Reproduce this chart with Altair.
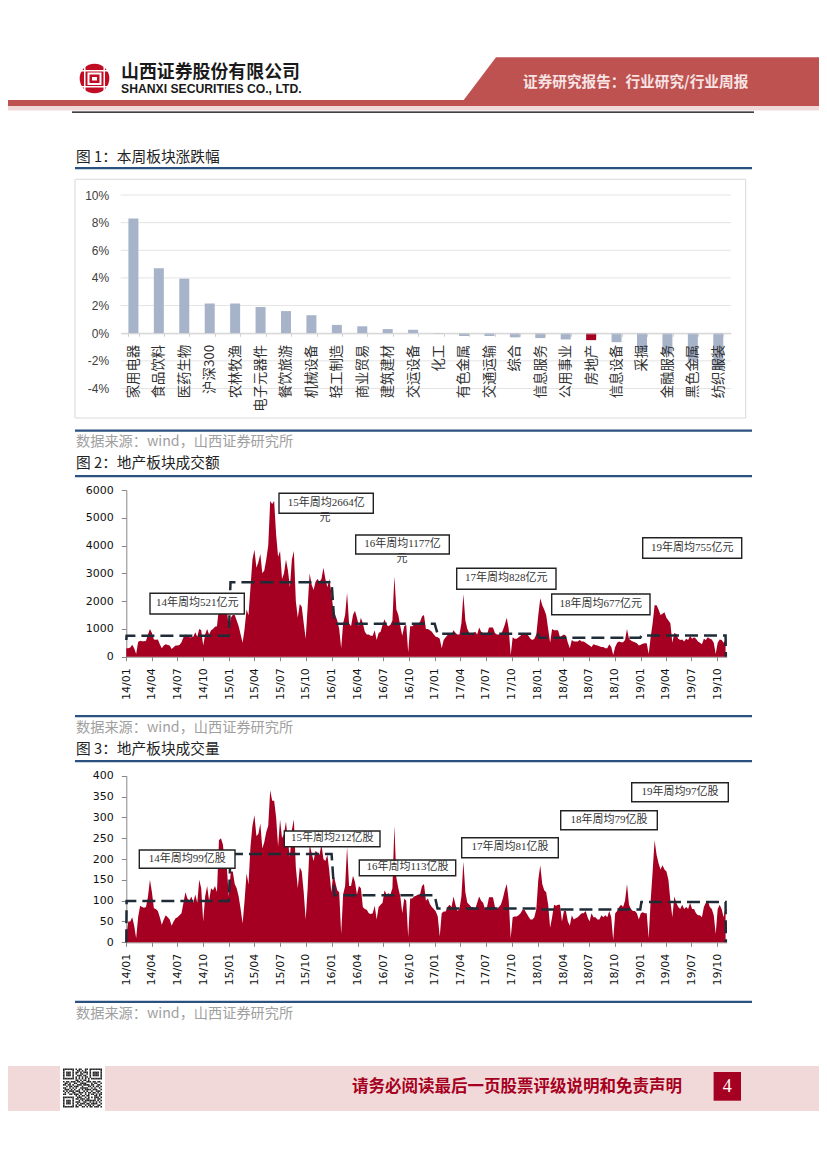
import altair as alt
import pandas as pd

# ---------- data ----------
sectors = ["家用电器","食品饮料","医药生物","沪深300","农林牧渔","电子元器件","餐饮旅游","机械设备","轻工制造","商业贸易","建筑建材","交运设备",
           "化工","有色金属","交通运输","综合","信息服务","公用事业","房地产","信息设备","采掘","金融服务","黑色金属","纺织服装"]
sector_chg = [8.3,4.7,3.95,2.15,2.15,1.9,1.6,1.3,0.6,0.5,0.3,0.25,-0.05,-0.2,-0.2,-0.3,-0.35,-0.45,-0.5,-0.65,-1.3,-1.5,-2.0,-2.6]

amount = [
 300,300,330,430,300,100,530,570,560,560,570,800,1000,
 850,620,610,620,450,300,400,450,420,400,280,340,400,
 400,420,520,700,800,780,700,700,720,880,720,1000,950,
 400,800,1000,800,950,1000,1080,1100,1750,1750,1700,1750,1750,
 1000,1400,1500,1500,1300,1100,800,500,1000,1700,1500,2500,3500,
 3850,3200,3400,3700,3000,3100,3500,4000,5600,5500,5600,4400,3600,
 3800,2800,3000,3500,3100,2500,3500,3800,2000,1400,1900,1800,1200,
 650,1800,3000,2600,2400,2700,2800,2700,2800,3200,2800,2500,2800,
 2300,1700,1500,1300,1000,300,1200,1500,2300,1200,1100,1500,1650,
 1400,1100,1400,1200,900,800,800,750,750,950,600,850,900,
 1150,1350,1150,1100,1150,1300,2900,1700,1500,1100,750,1100,1150,
 150,1100,1100,1150,1200,1200,1250,1450,1500,1000,1000,950,900,
 800,720,700,650,300,600,700,780,800,800,950,850,800,
 800,1200,2250,1300,1000,850,850,850,900,800,1050,900,850,
 800,800,1050,1050,1050,850,800,800,800,950,1150,1400,1000,
 50,700,650,650,700,750,850,850,850,750,650,600,650,
 800,1500,2100,1850,1700,1500,1000,500,1000,950,950,950,700,
 750,800,750,500,300,600,550,550,550,600,550,550,500,
 450,400,350,450,420,400,380,350,350,300,300,450,350,
 60,350,500,550,520,520,600,1000,650,580,550,520,480,
 400,430,470,480,480,100,700,1200,1850,1850,1700,1500,1550,
 1600,1400,1300,1200,500,850,820,650,600,620,550,650,600,
 750,650,700,650,550,500,450,650,600,700,650,620,500,
 100,500,620,600,500,600]
volume = [
 15,50,50,60,40,10,60,88,85,83,85,110,150,
 120,82,80,75,60,42,55,65,60,55,40,50,58,
 60,65,70,95,120,105,100,110,95,115,95,150,130,
 50,110,135,100,130,125,135,120,245,250,235,190,180,
 110,170,170,140,130,110,80,45,100,165,140,230,280,
 305,255,260,285,225,240,265,280,365,340,340,300,230,
 295,250,260,290,240,205,270,295,180,130,180,170,120,
 55,130,235,215,195,220,215,210,235,200,195,210,170,
 120,165,145,125,120,20,115,135,230,135,135,160,145,
 115,135,130,85,80,78,70,68,70,88,55,85,90,
 95,125,115,118,115,130,280,155,130,110,70,105,100,
 12,105,105,110,112,115,115,135,140,100,105,92,85,
 80,74,62,14,70,74,74,85,90,85,110,90,75,
 80,110,194,120,95,90,85,85,80,95,110,100,95,
 80,85,108,108,108,85,80,85,90,105,125,140,100,
 10,60,62,62,65,70,78,78,70,62,55,55,60,
 80,150,185,140,125,120,90,35,60,90,88,90,90,
 50,75,75,50,40,65,55,58,60,65,70,70,75,
 60,50,70,60,60,55,55,65,60,65,60,75,60,
 5,70,75,85,90,85,100,140,90,80,75,75,70,
 55,70,72,70,70,10,100,170,245,210,190,175,185,
 175,170,150,100,60,110,95,85,80,90,80,85,80,
 95,80,80,70,65,65,60,85,95,100,85,80,65,
 20,80,90,80,60,85]
avg_dates = ["2014-01-01","2014-01-02","2014-12-31","2015-01-06","2015-12-31","2016-01-10","2016-12-31","2017-01-10",
             "2017-12-31","2018-01-06","2018-12-31","2019-01-04","2019-10-30","2019-10-31"]
avg_amount = [600,750,750,2680,2680,1190,1190,830,830,680,680,760,760,0]
avg_volume = [0,99,99,212,212,113,113,81,81,79,79,97,97,0]
amt_notes = ["14年周均521亿元","15年周均2664亿","16年周均1177亿","17年周均828亿元","18年周均677亿元","19年周均755亿元"]
vol_notes = ["14年周均99亿股","15年周均212亿股","16年周均113亿股","17年周均81亿股","18年周均79亿股","19年周均97亿股"]
tick_years = [(y, m) for y in range(14, 20) for m in (1, 4, 7, 10)]
SRC = "数据来源\uff1awind\uff0c山西证券研究所"
FIG1 = "图 1\uff1a本周板块涨跌幅"
FIG2 = "图 2\uff1a地产板块成交额"
FIG3 = "图 3\uff1a地产板块成交量"
HEAD = "证券研究报告\uff1a行业研究/行业周报"

# ---------- layout (page pixels, shifted by the 8 px page margin) ----------
M = 8
RED = "#A50021"
BAND = "#BE5250"
PINK = "#F2D9D9"
BLUE = "#2B5180"
CJK = "Noto Sans CJK SC"
SERIF = "Liberation Serif, Noto Sans CJK SC"
DATE_DOMAIN = ["2014-01-01T00:00:00", "2019-11-03T00:00:00"]
dates = [d.strftime("%Y-%m-%dT00:00:00") for d in pd.date_range("2014-01-01", periods=len(amount), freq="7D")]
avg_iso = [d + "T00:00:00" for d in avg_dates]
tick_values = [alt.DateTime(year=2000 + y, month=m, date=1) for y, m in tick_years]
FULL_H = 1120


def page_df(rows, cols):
    df = pd.DataFrame(rows, columns=cols)
    for c in cols:
        if c in ("x", "x2", "y", "y2"):
            df[c] = df[c] - M
    return df


def rects(rows):
    df = page_df(rows, ["x", "y", "x2", "y2", "fill"])
    return alt.Chart(df).mark_rect(strokeWidth=0).encode(
        x=alt.X("x:Q", scale=None, axis=None), x2="x2:Q",
        y=alt.Y("y:Q", scale=None, axis=None), y2="y2:Q",
        fill=alt.Fill("fill:N", scale=None))


def texts(rows, **kw):
    df = page_df(rows, ["x", "y", "t"])
    return alt.Chart(df).mark_text(baseline="middle", **kw).encode(
        x=alt.X("x:Q", scale=None, axis=None),
        y=alt.Y("y:Q", scale=None, axis=None),
        text="t:N")


def boxes(rows):
    df = page_df(rows, ["x", "y", "x2", "y2"])
    return alt.Chart(df).mark_rect(fill="white", stroke="#222222", strokeWidth=1.4).encode(
        x=alt.X("x:Q", scale=None, axis=None), x2="x2:Q",
        y=alt.Y("y:Q", scale=None, axis=None), y2="y2:Q")


layers = []

# header
layers.append(rects([(8, 100, 819, 106, BAND), (8, 106, 819, 110.5, PINK), (72, 111.5, 754, 112.7, "#000000")]))
trap = pd.DataFrame({"x": [463 - M, 496 - M, 819 - M], "y": [101 - M, 57.3 - M, 57.3 - M], "y2": [101 - M] * 3})
layers.append(alt.Chart(trap).mark_area(color=BAND).encode(
    x=alt.X("x:Q", scale=None, axis=None), y=alt.Y("y:Q", scale=None, axis=None), y2="y2:Q"))
logo = pd.DataFrame({"x": [94.5 - M], "y": [78.5 - M]})
layers.append(alt.Chart(logo).mark_circle(size=880, color="#C00D23", opacity=1).encode(
    x=alt.X("x:Q", scale=None, axis=None), y=alt.Y("y:Q", scale=None, axis=None)))
layers.append(rects([
    (77, 70, 112, 71.5, "#FFFFFF"), (77, 86, 112, 87.5, "#FFFFFF"),
    (84, 60, 85.5, 97, "#FFFFFF"), (103.5, 60, 105, 97, "#FFFFFF"),
    (87.5, 72.5, 101.5, 85, "#FFFFFF"), (89.5, 74.5, 99.5, 83, "#C00D23"),
    (92, 77, 97, 80.5, "#FFFFFF"), (90, 66, 99, 68, "#C00D23")]))
layers.append(texts([(121, 72.7, "山西证券股份有限公司")], font=CJK, fontSize=17.9, fontWeight="bold", align="left", color="#1a1a1a"))
layers.append(texts([(121, 89, "SHANXI SECURITIES CO., LTD.")], font="Liberation Sans", fontSize=12.2, fontWeight="bold", align="left", color="#1a1a1a"))
layers.append(texts([(523, 83, HEAD)], font=CJK, fontSize=14.65, fontWeight="bold", align="left", color="#F7E3E3"))

# section titles, rules, source lines
layers.append(rects([(75, y, 752, y + 2.2, BLUE) for y in (167, 429.6, 475, 715, 760, 1000.8)]))
layers.append(texts([(76, 158, FIG1), (76, 464, FIG2), (76, 750, FIG3)],
                    font=CJK, fontSize=14.7, align="left", color="#222222"))
layers.append(texts([(76, 442, SRC), (76, 728, SRC), (76, 1014, SRC)],
                    font=CJK, fontSize=14.2, align="left", color="#A0A0A0"))

# figure 1 frame, grid, bars
frame = pd.DataFrame({"x": [75 - M], "x2": [745.7 - M], "y": [179.3 - M], "y2": [418 - M]})
layers.append(alt.Chart(frame).mark_rect(fillOpacity=0, stroke="#D9D9D9", strokeWidth=1).encode(
    x=alt.X("x:Q", scale=None, axis=None), x2="x2:Q", y=alt.Y("y:Q", scale=None, axis=None), y2="y2:Q"))
chg_scale = alt.Scale(domain=[-4, 10], range=[388.5 - M, 195 - M], nice=False, zero=False)
grid_df = pd.DataFrame({"v": [-4, -2, 0, 2, 4, 6, 8, 10]})
layers.append(alt.Chart(grid_df).mark_rule(color="#E4E4E4", strokeWidth=1).encode(
    y=alt.Y("v:Q", scale=chg_scale, axis=alt.Axis(
        orient="left", values=grid_df["v"].tolist(), labelExpr="datum.value + '%'", domain=False, ticks=False, grid=False, title=None,
        labelFont="Liberation Sans", labelFontSize=12, labelColor="#404040", labelPadding=12, offset=-(120.7 - M))),
    x=alt.value(120.7 - M), x2=alt.value(731 - M)))
bar_df = pd.DataFrame({"sector": sectors, "chg": sector_chg})
layers.append(alt.Chart(bar_df).mark_bar(size=10).encode(
    x=alt.X("sector:N", sort=None, scale=alt.Scale(domain=sectors, range=[120.7 - M, 731 - M], paddingInner=0.6, paddingOuter=0.3), axis=alt.Axis(
        orient="bottom", title=None, labelAngle=270, labelAlign="right", labelBaseline="middle", labelFont=CJK, labelFontSize=13.4, labelColor="#303030",
        labelPadding=8, tickSize=3, tickColor="#D0D0D0", domainColor="#D0D0D0", labelOverlap=False, grid=False, tickBand="extent", zindex=1,
        offset=(333.3 - M) - FULL_H)),
    y=alt.Y("chg:Q", scale=chg_scale, axis=None),
    color=alt.condition(alt.datum.sector == "房地产", alt.value(RED), alt.value("#A7B3C8"))))


def panel(values, avg, domain_max, step, y_top, y_zero, note_boxes, note_texts):
    yscale = alt.Scale(domain=[0, domain_max], range=[y_zero - M, y_top - M], nice=False, zero=False)
    xscale = alt.Scale(domain=DATE_DOMAIN, range=[126.3 - M, 726.7 - M], nice=False)
    df = pd.DataFrame({"date": dates, "v": values})
    out = [alt.Chart(df).mark_area(color=RED, interpolate="linear").encode(
        x=alt.X("date:T", scale=xscale, axis=alt.Axis(
            orient="bottom", values=tick_values, format="%y/%m", title=None, labelAngle=270, labelAlign="right", labelBaseline="middle",
            labelFont="DejaVu Sans", labelFontSize=11, labelColor="#111111", labelPadding=7, tickSize=4, tickColor="#888888",
            domainColor="#888888", grid=False, labelOverlap=False, offset=(y_zero - M) - FULL_H)),
        y=alt.Y("v:Q", scale=yscale, axis=alt.Axis(
            orient="left", values=list(range(0, domain_max + 1, step)), title=None, grid=False, labelFont="DejaVu Sans", labelFontSize=11,
            format="d", labelColor="#111111", tickSize=5, tickColor="#888888", domainColor="#888888", labelPadding=8, offset=-(126.3 - M))))]
    adf = pd.DataFrame({"date": avg_iso, "v": avg})
    out.append(alt.Chart(adf).mark_line(color="#1F2C38", strokeWidth=2.5, strokeDash=[13, 6]).encode(
        x=alt.X("date:T", scale=xscale, axis=None), y=alt.Y("v:Q", scale=yscale, axis=None)))
    out.append(boxes(note_boxes))
    out.append(texts(note_texts, font=SERIF, fontSize=11, align="center", color="#333333"))
    return out


amt_boxes = [(150, 593.3, 244.3, 614), (279, 493.3, 373.3, 513.3), (355.7, 535, 449.3, 554),
             (456.7, 568.3, 556, 589.3), (551.7, 594, 650, 614.7), (642.7, 537.7, 741.7, 558.3)]
amt_text = [((b[0] + b[2]) / 2, (b[1] + b[3]) / 2 - 0.5, n) for b, n in zip(amt_boxes, amt_notes)]
amt_text += [(325, 518, "元"), (402, 559, "元")]
vol_boxes = [(139.3, 850, 235, 868.3), (284.3, 831, 380, 846.7), (359.3, 860, 455.7, 875.7),
             (461.7, 837.7, 558.3, 857.7), (560.7, 810.7, 657.3, 829.7), (631.7, 782.7, 728.3, 801.7)]
vol_text = [((b[0] + b[2]) / 2, (b[1] + b[3]) / 2 - 0.5, n) for b, n in zip(vol_boxes, vol_notes)]

layers += panel(amount, avg_amount, 6000, 1000, 490, 656.7, amt_boxes, amt_text)
layers += panel(volume, avg_volume, 400, 50, 775.7, 942.3, vol_boxes, vol_text)

# footer
qr_rows = [
 "1111111010110011011111111",
 "1000001001101010010000001",
 "1011101011010111010111101",
 "1011101010011001010111101",
 "1011101001110110010111101",
 "1000001010101011010000001",
 "1111111010101010101111111",
 "0000000011010110100000000",
 "1011011101101001110110110",
 "0110100110011110001011001",
 "1101101001110111101100110",
 "0010110111001000110101101",
 "1100101010011111001010010",
 "0111010100101011110111001",
 "1010111011100101001001110",
 "0101001100111010110110101",
 "1100110111010010101101011",
 "0000000010101101100011010",
 "1111111001110010101011101",
 "1000001011011101100010110",
 "1011101000101011111110101",
 "1011101011100110010101010",
 "1011101001011101101111001",
 "1000001010110010110100110",
 "1111111011001101011011101"]
layers.append(rects([(8, 1066, 819, 1111, PINK), (60, 1066, 105, 1111, "#FFFFFF"), (713.6, 1072, 741, 1100.7, RED)]))
cell = 39 / 25
qr_cells = [(63 + c * cell, 1068.5 + r * cell, 63 + (c + 1) * cell, 1068.5 + (r + 1) * cell, "#222222")
            for r, row in enumerate(qr_rows) for c, ch in enumerate(row) if ch == "1"]
layers.append(rects(qr_cells))
layers.append(texts([(352, 1087, "请务必阅读最后一页股票评级说明和免责声明")], font=CJK, fontSize=16.5, fontWeight="bold", align="left", color=RED))
layers.append(texts([(727.3, 1086.5, "4")], font="Liberation Serif", fontSize=18, align="center", color="#FFFFFF"))

chart = alt.layer(*layers).resolve_scale(x="independent", y="independent").resolve_axis(x="independent", y="independent").properties(
    width=811, height=FULL_H, padding=0, autosize=alt.AutoSizeParams(type="none")
).configure_view(stroke=None)

chart.save("out.html", embed_options={"renderer": "svg", "actions": False})
